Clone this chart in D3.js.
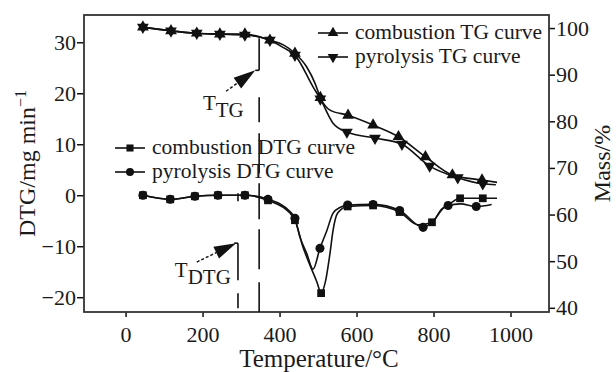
<!DOCTYPE html>
<html><head><meta charset="utf-8">
<script src="https://cdn.jsdelivr.net/npm/d3@7"></script>
<style>
body{margin:0;background:#fff}
svg{display:block}
text{font-family:"Liberation Serif","Times New Roman",serif;fill:#1a1a1a}
</style>
</head><body><svg id="c" width="616" height="372"></svg>
<script>
// ---------------- data ----------------
const xTicks = [0, 200, 400, 600, 800, 1000];
const dtgTicks = [-20, -10, 0, 10, 20, 30];
const massTicks = [40, 50, 60, 70, 80, 90, 100];

// combustion TG (mass %)
const combTG_T  = [45, 118, 185, 245, 310, 375, 410, 440, 471, 492, 506, 531, 578, 643, 709, 779, 849, 926, 965];
const combTG_M  = [100.2, 99.4, 98.9, 98.7, 98.7, 97.4, 96.4, 94.6, 91.6, 88.2, 85.1, 82.4, 81.3, 79.2, 76.7, 72.4, 68.5, 67.4, 66.9];
const combTG_mk = [1, 1, 1, 1, 1, 1, 0, 1, 0, 0, 1, 0, 1, 1, 1, 1, 1, 1, 0];

// pyrolysis TG (mass %)
const pyroTG_T  = [45, 118, 185, 245, 310, 375, 410, 440, 487, 506, 539, 575, 648, 718, 790, 863, 928, 962];
const pyroTG_M  = [100.2, 99.4, 98.9, 98.7, 98.5, 97.4, 95.8, 94.2, 87.4, 84.8, 79.6, 77.7, 76.4, 75.1, 70.4, 67.9, 66.6, 66.4];
const pyroTG_mk = [1, 1, 1, 1, 1, 1, 0, 1, 0, 1, 0, 1, 1, 1, 1, 1, 1, 0];

// combustion DTG (mg/min)
const combDTG_T  = [45, 116, 180, 240, 310, 370, 427, 440, 461, 479, 497, 508, 519, 531, 539, 551, 577, 643, 712, 760, 796, 820, 845, 869, 928, 965];
const combDTG_V  = [0, -0.8, -0.2, 0, 0, -1.0, -3.5, -4.9, -10.2, -13.7, -17.0, -19.2, -17.0, -11.4, -6.9, -3.5, -2.2, -2.0, -3.3, -5.8, -5.3, -2.8, -1.5, -0.6, -0.6, -0.6];
const combDTG_mk = [1, 1, 1, 1, 1, 1, 0, 1, 0, 0, 0, 1, 0, 0, 0, 0, 1, 1, 1, 0, 1, 0, 0, 1, 1, 0];

// pyrolysis DTG (mg/min)
const pyroDTG_T  = [45, 116, 180, 240, 310, 370, 427, 440, 453, 471, 487, 505, 523, 539, 557, 577, 643, 712, 773, 800, 825, 838, 870, 911, 951];
const pyroDTG_V  = [0, -0.8, -0.2, 0, 0, -0.8, -3.2, -4.5, -8.2, -11.5, -14.5, -10.4, -6.9, -3.5, -2.4, -1.9, -1.8, -3.0, -6.3, -5.0, -2.6, -2.0, -1.7, -2.2, -1.8];
const pyroDTG_mk = [1, 1, 1, 1, 1, 1, 0, 1, 0, 0, 0, 1, 0, 0, 0, 1, 1, 1, 1, 0, 0, 1, 0, 1, 0];

// annotation temperatures
const T_TG = 347, T_DTG = 292;

// ---------------- layout ----------------
const svg = d3.select("#c");
const L = 84, R = 549, T = 15, B = 312;
const x = d3.scaleLinear().domain([-108, 1100]).range([L, R]);
const yL = d3.scaleLinear().domain([-22.9, 35.35]).range([B, T]);
const yR = d3.scaleLinear().domain([39.1, 102.8]).range([B, T]);
const ink = "#111";

// axes
const gx = svg.append("g").attr("transform", `translate(0,${B})`)
  .call(d3.axisBottom(x).tickValues(xTicks).tickSize(5).tickSizeOuter(0).tickPadding(9).tickFormat(d3.format("d")));
const gl = svg.append("g").attr("transform", `translate(${L},0)`)
  .call(d3.axisLeft(yL).tickValues(dtgTicks).tickSize(7).tickSizeOuter(0).tickPadding(1));
const gr = svg.append("g").attr("transform", `translate(${R},0)`)
  .call(d3.axisRight(yR).tickValues(massTicks).tickSize(6).tickSizeOuter(0).tickPadding(1));
[gx, gl, gr].forEach(g => {
  g.select(".domain").remove();
  g.selectAll(".tick line").attr("stroke", ink).attr("stroke-width", 1.5);
  g.selectAll(".tick text").attr("font-family", '"Liberation Serif",serif').attr("font-size", 22).attr("fill", "#1a1a1a");
});

// frame
svg.append("rect").attr("x", L).attr("y", T).attr("width", R - L).attr("height", B - T)
  .attr("fill", "none").attr("stroke", "#333").attr("stroke-width", 1.8);

// titles
svg.append("text").attr("x", 319).attr("y", 367).attr("text-anchor", "middle").attr("font-size", 25).text("Temperature/°C");
const lt = svg.append("text").attr("transform", `translate(35,${(T + B) / 2}) rotate(-90)`).attr("text-anchor", "middle").attr("font-size", 24);
lt.append("tspan").text("DTG/mg min");
lt.append("tspan").attr("dy", -9).attr("font-size", 16).text("−1");
svg.append("text").attr("transform", `translate(610,${(T + B) / 2}) rotate(-90)`).attr("text-anchor", "middle").attr("font-size", 24).text("Mass/%");

// series
function pts(ts, vs, mk) { return ts.map((t, i) => ({ t, v: vs[i], m: mk[i] })); }
const series = [
  { d: pts(combDTG_T, combDTG_V, combDTG_mk), y: yL, sym: d3.symbolSquare, size: 60, rot: 0 },
  { d: pts(pyroDTG_T, pyroDTG_V, pyroDTG_mk), y: yL, sym: d3.symbolCircle, size: 64, rot: 0 },
  { d: pts(combTG_T, combTG_M, combTG_mk), y: yR, sym: d3.symbolTriangle, size: 60, rot: 0 },
  { d: pts(pyroTG_T, pyroTG_M, pyroTG_mk), y: yR, sym: d3.symbolTriangle, size: 60, rot: 180 }
];
series.forEach(s => {
  const line = d3.line().x(p => x(p.t)).y(p => s.y(p.v)).curve(d3.curveMonotoneX);
  svg.append("path").datum(s.d).attr("d", line).attr("fill", "none").attr("stroke", ink).attr("stroke-width", 1.6);
  svg.append("g").selectAll("path").data(s.d.filter(p => p.m)).join("path")
    .attr("d", d3.symbol(s.sym, s.size))
    .attr("transform", p => `translate(${x(p.t)},${s.y(p.v)}) rotate(${s.rot})`)
    .attr("fill", ink);
});

// annotation lines
const arrowHead = (g, x1, y1, x2, y2) => {
  const a = Math.atan2(y2 - y1, x2 - x1), len = 22, w = 6.5;
  const bx = x2 - len * Math.cos(a), by = y2 - len * Math.sin(a);
  g.append("path").attr("d", `M${x2},${y2}L${bx + w * Math.sin(a)},${by - w * Math.cos(a)}L${bx - w * Math.sin(a)},${by + w * Math.cos(a)}Z`).attr("fill", ink);
  g.append("line").attr("x1", x1).attr("y1", y1).attr("x2", bx).attr("y2", by).attr("stroke", ink).attr("stroke-width", 1.4).attr("stroke-dasharray", "3,2");
};
const ann = svg.append("g");
// T_TG
ann.append("line").attr("x1", x(T_TG)).attr("x2", x(T_TG)).attr("y1", yL(30.8)).attr("y2", B)
  .attr("stroke", ink).attr("stroke-width", 1.6).attr("stroke-dasharray", "32,27,25,11,40,10,36,10,40,13,30,100");
ann.append("line").attr("x1", x(337)).attr("x2", x(T_TG)).attr("y1", yL(24.5)).attr("y2", yL(24.5)).attr("stroke", ink).attr("stroke-width", 1.6);
arrowHead(ann, x(261), yL(20.4), x(337), yL(24.5));
const ttg = ann.append("text").attr("x", x(201)).attr("y", yL(16.7)).attr("font-size", 21);
ttg.append("tspan").text("T");
ttg.append("tspan").attr("dy", 7).text("TG");
// T_DTG
ann.append("line").attr("x1", x(T_DTG)).attr("x2", x(T_DTG)).attr("y1", yL(0.4)).attr("y2", B)
  .attr("stroke", ink).attr("stroke-width", 1.6).attr("stroke-dasharray", "8,42,37,13,15,40");
ann.append("line").attr("x1", x(282)).attr("x2", x(T_DTG)).attr("y1", yL(-9.4)).attr("y2", yL(-9.4)).attr("stroke", ink).attr("stroke-width", 1.6);
arrowHead(ann, x(185), yL(-13.1), x(287), yL(-9.4));
const tdtg = ann.append("text").attr("x", x(128)).attr("y", yL(-16)).attr("font-size", 21);
tdtg.append("tspan").text("T");
tdtg.append("tspan").attr("dy", 7).text("DTG");

// legends
function legend(x0, y0, items) {
  items.forEach((it, i) => {
    const yy = y0 + i * 24;
    svg.append("line").attr("x1", x0).attr("x2", x0 + 30).attr("y1", yy).attr("y2", yy).attr("stroke", ink).attr("stroke-width", 1.6);
    svg.append("path").attr("d", d3.symbol(it.sym, 50)).attr("transform", `translate(${x0 + 15},${yy}) rotate(${it.rot})`).attr("fill", ink);
    svg.append("text").attr("x", x0 + 37).attr("y", yy + 6).attr("font-size", 21.5).text(it.label);
  });
}
legend(318, 33, [
  { sym: d3.symbolTriangle, rot: 0, label: "combustion TG curve" },
  { sym: d3.symbolTriangle, rot: 180, label: "pyrolysis TG curve" }
]);
legend(115, 148, [
  { sym: d3.symbolSquare, rot: 0, label: "combustion DTG curve" },
  { sym: d3.symbolCircle, rot: 0, label: "pyrolysis DTG curve" }
]);
</script></body></html>
